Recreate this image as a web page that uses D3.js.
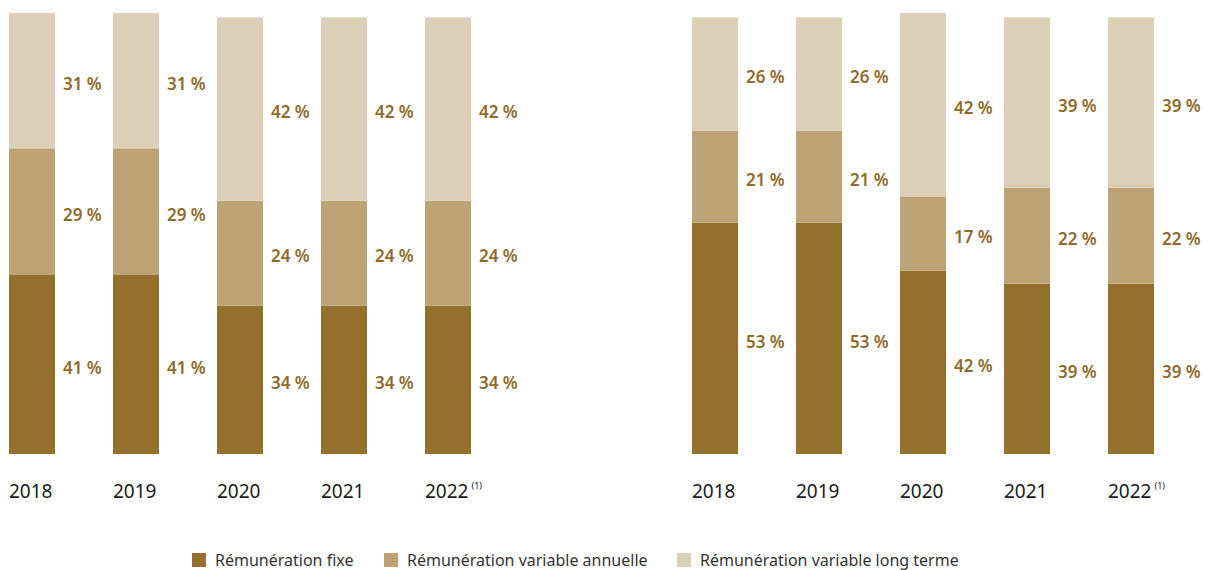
<!DOCTYPE html>
<html>
<head>
<meta charset="utf-8">
<script src="https://cdn.jsdelivr.net/npm/d3@7"></script>
<style>
  body { margin: 0; background: #fff; }
  svg { display: block; }
</style>
</head>
<body>
<div id="chart"></div>
<script>
// data
const years = ["2018", "2019", "2020", "2021", "2022"];
const seriesNames = ["Rémunération fixe", "Rémunération variable annuelle", "Rémunération variable long terme"];
const seriesColors = ["#93712C", "#BCA275", "#DBCFB8"];

// left panel
const leftFixe = [41, 41, 34, 34, 34];
const leftAnnuelle = [29, 29, 24, 24, 24];
const leftLongTerme = [31, 31, 42, 42, 42];

// right panel
const rightFixe = [53, 53, 42, 39, 39];
const rightAnnuelle = [21, 21, 17, 22, 22];
const rightLongTerme = [26, 26, 42, 39, 39];

const noteYear = "2022";

const width = 1218, height = 570;

const svg = d3.select("#chart").append("svg")
    .attr("width", width)
    .attr("height", height);

const y = d3.scaleLinear().domain([0, 101]).range([454, 13]);

function drawPanel(offsetX, values) {
    let rows = years.map((yr, i) => ({
        year: yr,
        vals: values.map(v => v[i])
    }));

    // 5 bars, 46px wide, 104px apart
    let x = d3.scaleBand()
        .domain(years)
        .range([offsetX, offsetX + 462])
        .paddingInner(58 / 104)
        .paddingOuter(0)
        .align(0);

    let g = svg.append("g");

    rows.forEach(r => {
        let cum = 0;
        r.vals.forEach((v, k) => {
            let y0 = cum, y1 = cum + v;
            cum = y1;
            g.append("rect")
                .attr("x", x(r.year))
                .attr("width", x.bandwidth())
                .attr("y", y(y1))
                .attr("height", y(y0) - y(y1))
                .style("fill", seriesColors[k]);

            g.append("text")
                .attr("x", x(r.year) + x.bandwidth() + 8)
                .attr("y", (y(y0) + y(y1)) / 2)
                .attr("dy", "0.55em")
                .text(v + " %")
                .style("fill", "#8E6B2B")
                .style("font-family", "Noto Sans")
                .style("font-weight", "600")
                .style("font-size", "17px");
        });

        let t = g.append("text")
            .attr("x", x(r.year))
            .attr("y", 498)
            .style("fill", "#1a1a1a")
            .style("font-family", "Noto Sans")
            .style("font-size", "19px");
        t.append("tspan").text(r.year);
        if (r.year === noteYear) {
            t.append("tspan")
                .attr("dx", 3)
                .attr("dy", -9)
                .style("font-size", "9px")
                .text("(1)");
        }
    });
}

drawPanel(9, [leftFixe, leftAnnuelle, leftLongTerme]);
drawPanel(692, [rightFixe, rightAnnuelle, rightLongTerme]);

// legend
const legendX = [192, 384, 677];
const legend = svg.append("g");
seriesNames.forEach((name, k) => {
    legend.append("rect")
        .attr("x", legendX[k])
        .attr("y", 553)
        .attr("width", 14)
        .attr("height", 14)
        .style("fill", seriesColors[k]);
    legend.append("text")
        .attr("x", legendX[k] + 23)
        .attr("y", 560)
        .attr("dy", "0.36em")
        .text(name)
        .style("fill", "#333")
        .style("font-family", "Noto Sans")
        .style("font-size", "16px");
});
</script>
</body>
</html>
